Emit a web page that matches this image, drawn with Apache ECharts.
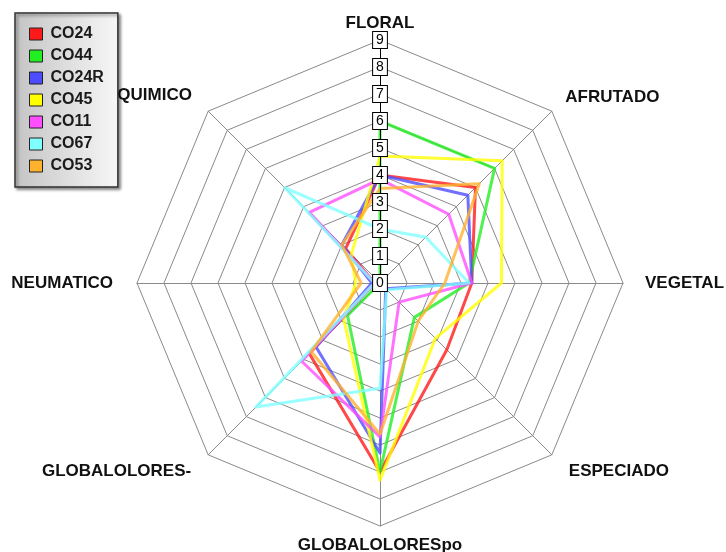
<!DOCTYPE html>
<html>
<head>
<meta charset="utf-8">
<script src="https://cdn.jsdelivr.net/npm/echarts@6/dist/echarts.min.js"></script>
<style>
  html, body { margin: 0; padding: 0; background: #fff; }
  #chart { width: 726px; height: 552px; }
</style>
</head>
<body>
<div id="chart"></div>
<script>
// Axes listed clockwise, starting at the top
const axisNames = ['FLORAL', 'AFRUTADO', 'VEGETAL', 'ESPECIADO', 'GLOBALOLORESpo', 'GLOBALOLORES-', 'NEUMATICO', 'QUIMICO'];
const axisMax = 9;

const seriesNames = ['CO24', 'CO44', 'CO24R', 'CO45', 'CO11', 'CO67', 'CO53'];
// Scores per axis, same clockwise order as axisNames
const CO24  = [4.0, 5.0, 3.4, 3.5, 7.0, 3.7, 0.2, 1.8];
const CO44  = [6.0, 6.0, 3.3, 1.8, 7.0, 1.7, 0.0, 0.0];
const CO24R = [4.0, 4.6, 3.4, 0.3, 6.3, 3.35, 0.3, 2.0];
const CO45  = [4.7, 6.4, 4.5, 2.9, 7.3, 1.9, 0.9, 1.5];
const CO11  = [3.85, 3.6, 3.4, 1.0, 5.7, 4.1, 0.2, 3.7];
const CO67  = [2.0, 2.4, 3.3, 0.35, 3.9, 6.5, 0.2, 5.0];
const CO53  = [3.5, 5.2, 2.4, 2.0, 5.6, 3.6, 0.7, 2.0];
const seriesValues = [CO24, CO44, CO24R, CO45, CO11, CO67, CO53];

const seriesColors = ['#ff1a1a', '#22ee22', '#4d4dff', '#ffff00', '#ff4dff', '#80ffff', '#ffb22e'];

// ECharts lays indicators out counter-clockwise, so walk the axes in reverse after the first
const order = [0, 7, 6, 5, 4, 3, 2, 1];
// distance between the outer ring and each axis title (clockwise order)
const nameGaps = [8, 19, 22, 24, 11, 24, 24, 23];

const CENTER = [380, 283];
const RADIUS = 243;
const FONT = '"Liberation Sans", Arial, sans-serif';

const chart = echarts.init(document.getElementById('chart'), null, { renderer: 'canvas' });

chart.setOption({
  animation: false,
  backgroundColor: '#ffffff',
  legend: {
    orient: 'vertical',
    left: 15,
    top: 13,
    padding: [13, 14, 13, 14],
    itemWidth: 13,
    itemHeight: 12,
    itemGap: 6,
    icon: 'rect',
    selectedMode: false,
    data: seriesNames,
    itemStyle: { borderColor: '#222', borderWidth: 1 },
    textStyle: {
      color: '#1a1a1a', fontSize: 16, fontWeight: 'bold', fontFamily: FONT,
      lineHeight: 16, padding: [0, 0, 0, 3]
    },
    borderColor: '#333',
    borderWidth: 1.5,
    backgroundColor: {
      type: 'linear', x: 0, y: 0, x2: 1, y2: 0,
      colorStops: [{ offset: 0, color: '#c4c4c4' }, { offset: 1, color: '#f7f7f7' }]
    },
    shadowColor: 'rgba(0,0,0,0.45)',
    shadowBlur: 3,
    shadowOffsetX: 2,
    shadowOffsetY: 2
  },
  radar: [
    {
      // web, spokes and axis titles
      center: CENTER,
      radius: RADIUS,
      startAngle: 90,
      splitNumber: axisMax,
      shape: 'polygon',
      axisName: { color: '#111', fontSize: 17, fontWeight: 'bold', fontFamily: FONT },
      splitLine: { lineStyle: { color: '#8a8a8a', width: 1 } },
      splitArea: { show: false },
      axisLine: { lineStyle: { color: '#8a8a8a', width: 1 } },
      axisTick: { show: false },
      axisLabel: { show: false },
      indicator: order.map(i => ({ name: axisNames[i], min: 0, max: axisMax, nameGap: nameGaps[i] }))
    },
    {
      // boxed value scale on the FLORAL axis, drawn above the series
      center: CENTER,
      radius: RADIUS,
      startAngle: 90,
      splitNumber: axisMax,
      shape: 'polygon',
      z: 5,
      axisName: { show: false },
      splitLine: { show: false },
      splitArea: { show: false },
      axisLine: { show: false },
      axisTick: { show: false },
      axisLabel: { show: false },
      indicator: order.map((i, k) => k === 0 ? {
        name: '', min: 0, max: axisMax,
        axisLine: { show: true, lineStyle: { color: '#000', width: 1 } },
        axisLabel: {
          show: true, margin: 0, align: 'center', verticalAlign: 'middle',
          color: '#000', fontSize: 14, lineHeight: 15, fontFamily: FONT,
          backgroundColor: '#fff', borderColor: '#000', borderWidth: 1,
          padding: [1, 3, 0, 3]
        }
      } : { name: '', min: 0, max: axisMax })
    }
  ],
  series: seriesNames.map((name, s) => ({
    name: name,
    type: 'radar',
    radarIndex: 0,
    symbol: 'none',
    itemStyle: { color: seriesColors[s] },
    lineStyle: { color: seriesColors[s], width: 3, opacity: 0.8 },
    data: [{ name: name, value: order.map(i => seriesValues[s][i]) }]
  }))
});
</script>
</body>
</html>
